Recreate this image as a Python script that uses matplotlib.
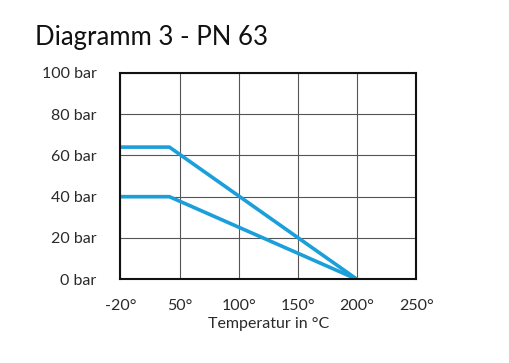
import matplotlib
matplotlib.use("Agg")
import matplotlib.pyplot as plt
import numpy as np

# tick temperatures and their evenly spaced positions (first step is 70 K, rest 50 K)
tick_temps = [-20, 50, 100, 150, 200, 250]
tick_labels = ["-20°", "50°", "100°", "150°", "200°", "250°"]
y_ticks = [0, 20, 40, 60, 80, 100]
y_labels = ["0 bar", "20 bar", "40 bar", "60 bar", "80 bar", "100 bar"]

# pressure curves
temps = [-20, 38, 200]
upper = [64, 64, 0]
lower = [40, 40, 0]

pos = np.arange(len(tick_temps))
def fwd(t):
    return np.interp(t, tick_temps, pos)
def inv(p):
    return np.interp(p, pos, tick_temps)

plt.rcParams['font.family'] = ['Lato', 'DejaVu Sans']

fig = plt.figure(figsize=(5.1, 3.63), dpi=100)
ax = fig.add_axes([0.236, 0.2306, 0.580, 0.569])
ax.set_xscale('function', functions=(fwd, inv))

ax.plot(temps, upper, color='#1a9fdb', lw=2.6, solid_joinstyle='miter')
ax.plot(temps, lower, color='#1a9fdb', lw=2.6, solid_joinstyle='miter')

ax.set_xlim(-20, 250)
ax.set_ylim(0, 100)
ax.set_xticks(tick_temps)
ax.set_xticklabels(tick_labels)
ax.set_yticks(y_ticks)
ax.set_yticklabels(y_labels)
ax.grid(True, color='#555555', lw=0.8)
ax.tick_params(length=0, labelsize=11.5, colors='#2a2a2a')
ax.tick_params(axis='y', pad=17)
ax.tick_params(axis='x', pad=14)
for s in ax.spines.values():
    s.set_linewidth(1.5)
    s.set_color('#111111')

ax.set_xlabel('Temperatur in °C', fontsize=11.5, color='#2a2a2a', labelpad=3)
fig.text(0.068, 0.875, 'Diagramm 3 - PN 63', fontsize=18.5, color='#111111')

fig.savefig('out.png', dpi=100)
